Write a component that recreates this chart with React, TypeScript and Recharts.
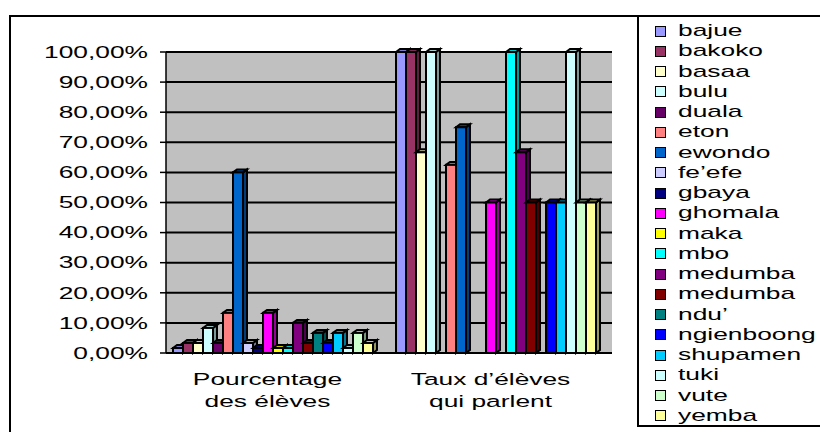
import React from 'react';
import { BarChart, Bar, XAxis, YAxis, CartesianGrid } from 'recharts';

const categories = ['Pourcentage\ndes élèves', 'Taux d’élèves\nqui parlent'];

const languages = [
  'bajue', 'bakoko', 'basaa', 'bulu', 'duala', 'eton', 'ewondo', 'fe’efe', 'gbaya', 'ghomala',
  'maka', 'mbo', 'medumba', 'medumba', 'ndu’', 'ngienboong', 'shupamen', 'tuki', 'vute', 'yemba',
];

const colors = [
  '#9999FF', '#993366', '#FFFFCC', '#CCFFFF', '#660066', '#FF8080', '#0066CC', '#CCCCFF', '#000080', '#FF00FF',
  '#FFFF00', '#00FFFF', '#800080', '#800000', '#008080', '#0000FF', '#00CCFF', '#CCFFFF', '#CCFFCC', '#FFFF99',
];

// Pourcentage des élèves
const pourcentage = [
  1.67, 3.33, 3.33, 8.33, 3.33, 13.33, 60, 3.33, 1.67, 13.33,
  1.67, 1.67, 10, 3.33, 6.67, 3.33, 6.67, 1.67, 6.67, 3.33,
];

// Taux d'élèves qui parlent
const taux = [
  100, 100, 66.67, 100, 0, 62.5, 75, 0, 0, 50,
  0, 100, 66.67, 50, 0, 50, 50, 100, 50, 50,
];

const yTicks = [0, 10, 20, 30, 40, 50, 60, 70, 80, 90, 100];

const data = categories.map((cat, ci) => {
  const row: Record<string, number | string> = { name: cat };
  languages.forEach((_, i) => {
    row[`s${i}`] = ci === 0 ? pourcentage[i] : taux[i];
  });
  return row;
});

const FONT = '"Liberation Sans", Arial, sans-serif';
const STRETCH = 1.55;

const shade = (hex: string, f: number) => {
  const n = parseInt(hex.slice(1), 16);
  const r = Math.round(((n >> 16) & 255) * f);
  const g = Math.round(((n >> 8) & 255) * f);
  const b = Math.round((n & 255) * f);
  return `rgb(${r},${g},${b})`;
};

// front face + right side + top, like the old excel 3d columns
const Bar3D = (props: any) => {
  const { x, y, width, height, fill } = props;
  if (!height || height <= 0) return null;
  const d = 4;
  const e = 3;
  return (
    <g stroke="#000" strokeWidth={2} strokeLinejoin="miter">
      <polygon
        points={`${x + width},${y} ${x + width + d},${y - e} ${x + width + d},${y + height - e} ${x + width},${y + height}`}
        fill={shade(fill, 0.6)}
      />
      <polygon
        points={`${x},${y} ${x + d},${y - e} ${x + width + d},${y - e} ${x + width},${y}`}
        fill={shade(fill, 0.8)}
      />
      <rect x={x} y={y} width={width} height={height} fill={fill} />
    </g>
  );
};

const YTick = ({ x, y, payload }: any) => (
  <text
    transform={`translate(${x - 10},${y}) scale(${STRETCH},1)`}
    textAnchor="end"
    dominantBaseline="central"
    fontSize={17}
    fontFamily={FONT}
    fill="#000"
  >
    {payload.value.toFixed(2).replace('.', ',')}%
  </text>
);

const XTick = ({ x, y, payload }: any) => {
  const lines = String(payload.value).split('\n');
  return (
    <g>
      {lines.map((line, i) => (
        <text
          key={i}
          transform={`translate(${x - 10},${y + 18 + i * 22}) scale(${STRETCH},1)`}
          textAnchor="middle"
          dominantBaseline="central"
          fontSize={17}
          fontFamily={FONT}
          fill="#000"
        >
          {line}
        </text>
      ))}
    </g>
  );
};

export default function App() {
  return (
    <div style={{ position: 'absolute', left: 0, top: 0, width: 820, height: 432, overflow: 'hidden', background: '#fff' }}>
      {/* chart area border */}
      <div style={{ position: 'absolute', left: 9, top: 15, width: 900, height: 500, border: '2px solid #000' }} />
      <div style={{ position: 'absolute', left: 0, top: 0 }}>
        <BarChart
          width={640}
          height={432}
          data={data}
          margin={{ top: 52, right: 28, left: 0, bottom: 19 }}
          barCategoryGap={7}
          barGap={0}
        >
          <CartesianGrid vertical={false} stroke="#000" strokeWidth={2} fill="#C0C0C0" />
          <XAxis
            dataKey="name"
            height={60}
            tick={<XTick />}
            tickLine={false}
            axisLine={{ stroke: '#000', strokeWidth: 1.5 }}
            interval={0}
          />
          <YAxis
            width={166}
            domain={[0, 100]}
            ticks={yTicks}
            tick={<YTick />}
            tickLine={{ stroke: '#000', strokeWidth: 1.5 }}
            axisLine={{ stroke: '#000', strokeWidth: 1.5 }}
            interval={0}
          />
          {languages.map((lang, i) => (
            <Bar
              key={i}
              dataKey={`s${i}`}
              name={lang}
              fill={colors[i]}
              shape={<Bar3D />}
              isAnimationActive={false}
            />
          ))}
        </BarChart>
      </div>
      {/* legend */}
      <div
        style={{
          position: 'absolute',
          left: 637,
          top: 15,
          width: 300,
          height: 408,
          border: '2px solid #000',
          fontFamily: FONT,
          fontSize: 17,
        }}
      >
        {languages.map((lang, i) => (
          <div
            key={i}
            style={{ position: 'absolute', left: 16, top: 4 + i * 20.26, height: 20, display: 'flex', alignItems: 'center' }}
          >
            <span
              style={{
                display: 'inline-block',
                width: 9,
                height: 9,
                background: colors[i],
                border: '1.5px solid #000',
              }}
            />
            <span
              style={{
                display: 'inline-block',
                marginLeft: 12,
                transform: `scaleX(${STRETCH})`,
                transformOrigin: 'left center',
                whiteSpace: 'nowrap',
                lineHeight: '20px',
              }}
            >
              {lang}
            </span>
          </div>
        ))}
      </div>
    </div>
  );
}
